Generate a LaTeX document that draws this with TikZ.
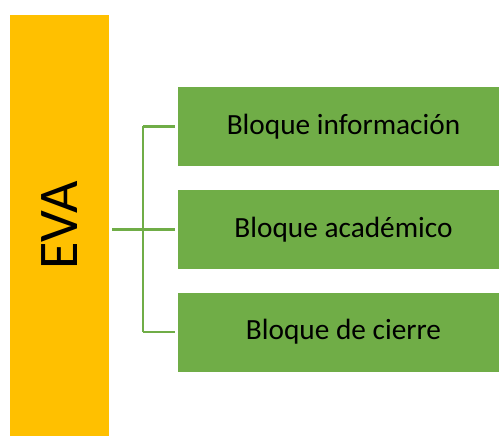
\documentclass[tikz,border=0pt]{standalone}
\usepackage{fontspec}
\setmainfont{Carlito}
\usepackage{tikz}
\usetikzlibrary{positioning, calc}

\definecolor{evayellow}{HTML}{FFC000}
\definecolor{blockgreen}{HTML}{70AD47}

\begin{document}
\begin{tikzpicture}[x=1pt, y=-1pt,
            block/.style={fill=blockgreen, minimum width=331pt, minimum height=79pt,
                inner sep=0pt, font=\fontsize{29.3}{33}\selectfont},
            main bar/.style={fill=evayellow, minimum width=99pt, minimum height=421pt, inner sep=0pt},
            link/.style={draw=blockgreen, line width=2.4pt}]

            \useasboundingbox (0,0) rectangle (499,436);

            \node[main bar] (eva) at (59.5,225.5) {};
            \node[rotate=90, font=\fontsize{56}{60}\selectfont] (evatext) at (eva.center) {EVA};

            \node[block] (blk1) at (343.5,126.5) {Bloque información};
            \node[block] (blk2) at (343.5,229.5) {Bloque académico};
            \node[block] (blk3) at (343.5,332) {Bloque de cierre};

            % Tree connector
            \coordinate (trunk) at (143,229.5);
            \draw[link] ([xshift=3pt]eva.east |- trunk) -- (trunk);
            \draw[link] (trunk |- blk1.west) -- (trunk |- blk3.west);
            \foreach \i in {1,2,3} {
                \draw[link] (trunk |- blk\i.west) -- ([xshift=-3pt]blk\i.west);
            }
        \end{tikzpicture}
\end{document}
